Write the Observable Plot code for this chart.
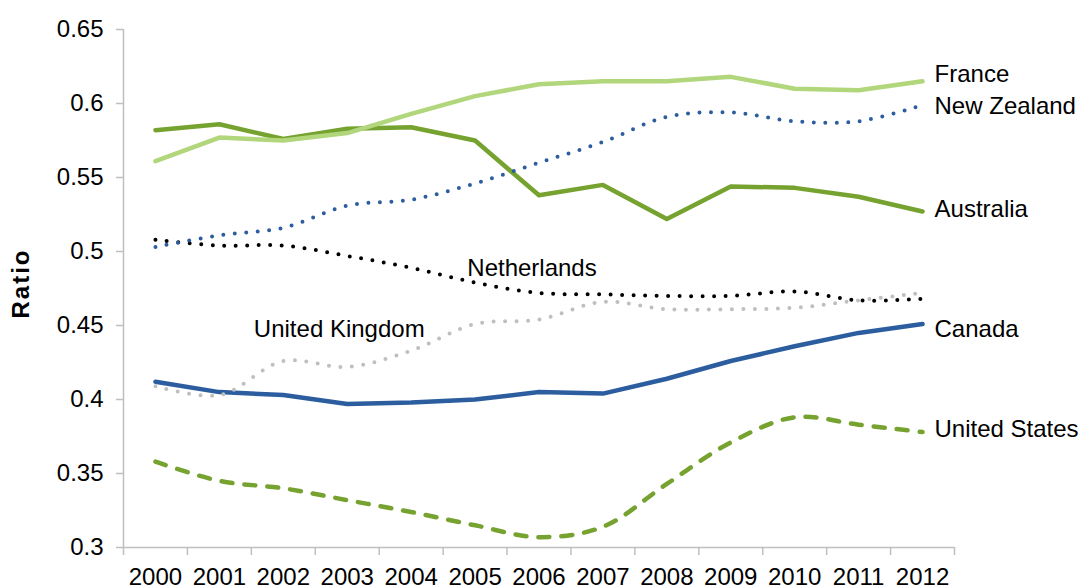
<!DOCTYPE html>
<html>
<head>
<meta charset="utf-8">
<script src="https://cdn.jsdelivr.net/npm/d3@7"></script>
<script src="https://cdn.jsdelivr.net/npm/@observablehq/plot@0.6"></script>
<style>
  html, body { margin: 0; padding: 0; background: #fff; }
  #chart svg { font-family: "Liberation Sans", Arial, sans-serif; }
</style>
</head>
<body>
<div id="chart"></div>
<script>
// ---- data ----
const years = [2000, 2001, 2002, 2003, 2004, 2005, 2006, 2007, 2008, 2009, 2010, 2011, 2012];
const france        = [0.561, 0.577, 0.575, 0.580, 0.593, 0.605, 0.613, 0.615, 0.615, 0.618, 0.610, 0.609, 0.615];
const australia     = [0.582, 0.586, 0.576, 0.583, 0.584, 0.575, 0.538, 0.545, 0.522, 0.544, 0.543, 0.537, 0.527];
const newZealand    = [0.503, 0.511, 0.516, 0.531, 0.535, 0.546, 0.560, 0.574, 0.591, 0.594, 0.588, 0.588, 0.599];
const netherlands   = [0.508, 0.504, 0.504, 0.497, 0.489, 0.479, 0.472, 0.471, 0.470, 0.470, 0.473, 0.467, 0.468];
const unitedKingdom = [0.409, 0.403, 0.426, 0.422, 0.433, 0.451, 0.454, 0.466, 0.461, 0.461, 0.462, 0.467, 0.472];
const canada        = [0.412, 0.405, 0.403, 0.397, 0.398, 0.400, 0.405, 0.404, 0.414, 0.426, 0.436, 0.445, 0.451];
const unitedStates  = [0.358, 0.345, 0.340, 0.332, 0.324, 0.315, 0.307, 0.314, 0.343, 0.371, 0.388, 0.383, 0.378];

const seriesNames = ["Australia", "Canada", "France", "Netherlands", "New Zealand", "United Kingdom", "United States"];
const seriesValues = [australia, canada, france, netherlands, newZealand, unitedKingdom, unitedStates];

const yTicks = [0.3, 0.35, 0.4, 0.45, 0.5, 0.55, 0.6, 0.65];
const yTickLabels = ["0.3", "0.35", "0.4", "0.45", "0.5", "0.55", "0.6", "0.65"];
const yAxisTitle = "Ratio";

// ---- styles per series ----
const styles = {
  "Australia":      {stroke: "#76a22f", strokeWidth: 4.5, curve: "linear"},
  "Canada":         {stroke: "#2c5d9e", strokeWidth: 4.5, curve: "linear"},
  "France":         {stroke: "#b2d67b", strokeWidth: 4.5, curve: "linear"},
  "Netherlands":    {stroke: "#000000", strokeWidth: 4, strokeDasharray: "0 11.5", strokeLinecap: "round", curve: "catmull-rom"},
  "New Zealand":    {stroke: "#2c5d9e", strokeWidth: 4, strokeDasharray: "0 11.5", strokeLinecap: "round", curve: "catmull-rom"},
  "United Kingdom": {stroke: "#bfbfbf", strokeWidth: 4, strokeDasharray: "0 11.5", strokeLinecap: "round", curve: "catmull-rom"},
  "United States":  {stroke: "#76a22f", strokeWidth: 4.5, strokeDasharray: "11 12", strokeLinecap: "round", curve: "catmull-rom"}
};

const rowsFor = (name, vals) => years.map((yr, i) => ({country: name, year: yr, value: vals[i]}));
const lineMarks = seriesNames.map((name, k) =>
  Plot.line(rowsFor(name, seriesValues[k]), {x: "year", y: "value", strokeLinejoin: "round", ...styles[name]})
);

const boundaries = years.map(y => y - 0.5).concat([years[years.length - 1] + 0.5]);
const last = years.length - 1;
const endLabel = (name, vals, dy) =>
  Plot.text([{year: years[last], value: vals[last]}], {x: "year", y: "value", text: () => name, textAnchor: "start", dx: 12, dy, fill: "black"});

const chart = Plot.plot({
  width: 1081,
  height: 586,
  marginLeft: 123,
  marginRight: 127,
  marginTop: 29,
  marginBottom: 39,
  style: {fontSize: "24px", fontFamily: "'Liberation Sans', Arial, sans-serif", background: "#fff", color: "black"},
  x: {type: "linear", domain: [boundaries[0], boundaries[boundaries.length - 1]]},
  y: {type: "linear", domain: [yTicks[0], yTicks[yTicks.length - 1]]},
  marks: [
    Plot.ruleX([boundaries[0]], {stroke: "#bfbfbf", strokeWidth: 1.5}),
    Plot.ruleY([yTicks[0]], {stroke: "#bfbfbf", strokeWidth: 1.5}),
    Plot.axisY({ticks: yTicks, tickFormat: (d) => yTickLabels[yTicks.indexOf(d)], tickSize: 7, tickPadding: 13, stroke: "#bfbfbf", strokeWidth: 1.5, fill: "black", label: null}),
    Plot.axisX({ticks: boundaries, tickFormat: () => "", tickSize: 8, stroke: "#bfbfbf", strokeWidth: 1.5, label: null}),
    Plot.axisX({ticks: years, tickFormat: d => String(d), tickSize: 0, tickPadding: 20, fill: "black", label: null}),
    ...lineMarks,
    endLabel("France", france, -7),
    endLabel("New Zealand", newZealand, 1),
    endLabel("Australia", australia, -2),
    endLabel("Canada", canada, 5),
    endLabel("United States", unitedStates, -3),
    Plot.text([{year: years[6], value: netherlands[6]}], {x: "year", y: "value", text: () => "Netherlands", dx: -7, dy: -25, fill: "black"}),
    Plot.text([{year: years[3], value: unitedKingdom[3]}], {x: "year", y: "value", text: () => "United Kingdom", dx: -8, dy: -38, fill: "black"}),
    Plot.text([yAxisTitle], {frameAnchor: "left", textAnchor: "middle", text: d => d, rotate: -90, dx: -102, dy: -5, fontWeight: "bold", fill: "black"})
  ]
});
d3.select(chart).selectAll("text").filter(function () { return this.textContent === yAxisTitle; }).style("letter-spacing", "2px");
document.getElementById("chart").appendChild(chart);
</script>
</body>
</html>
